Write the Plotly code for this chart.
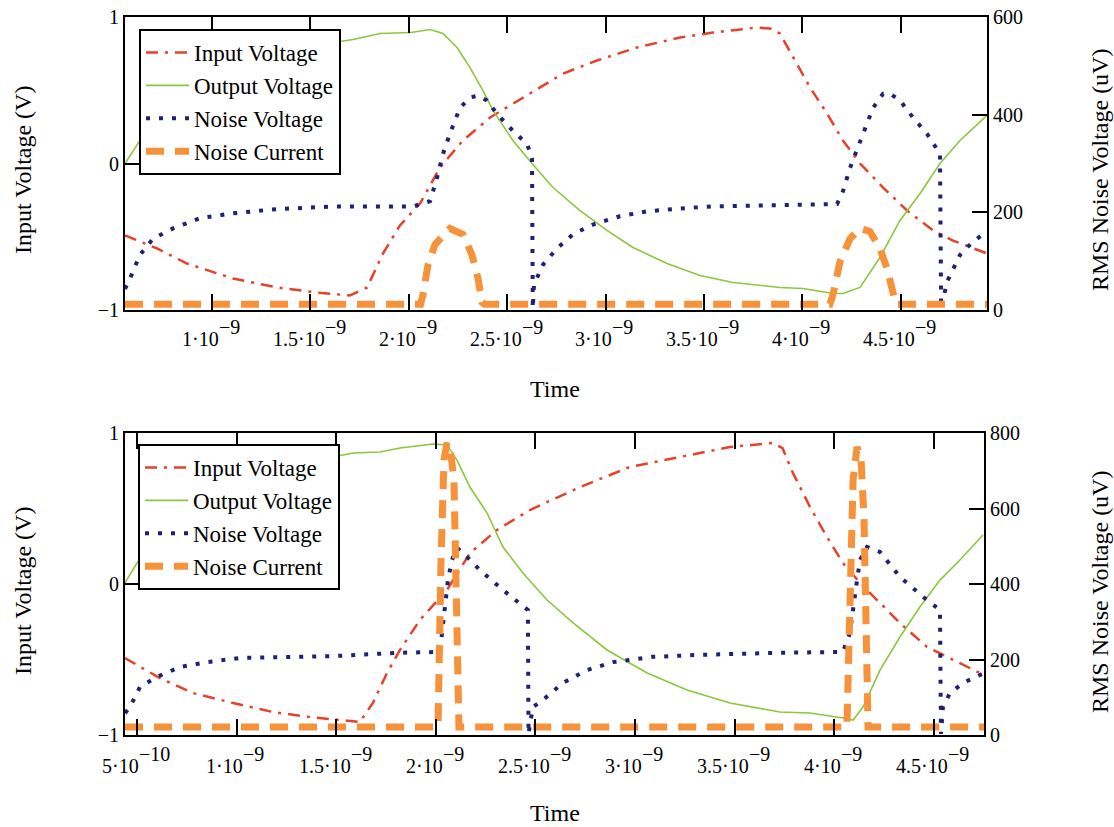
import plotly.graph_objects as go

NS = 1e-9

# ---------------- upper panel (times in ns) ----------------
up_in_t = [0.558, 0.721, 0.873, 1.107, 1.330, 1.534, 1.701, 1.788, 1.869, 1.955, 2.057, 2.159,
           2.275, 2.413, 2.616, 2.784, 2.956, 3.160, 3.378, 3.546, 3.769, 3.835, 3.886, 3.952,
           4.039, 4.125, 4.206, 4.293, 4.410, 4.532, 4.664, 4.765, 4.902, 4.938]
up_in_v = [-0.491, -0.580, -0.683, -0.785, -0.846, -0.881, -0.901, -0.846, -0.614, -0.423, -0.273, -0.027,
           0.157, 0.314, 0.478, 0.614, 0.703, 0.792, 0.860, 0.894, 0.928, 0.922, 0.887, 0.724,
           0.519, 0.341, 0.157, 0.0, -0.164, -0.321, -0.457, -0.526, -0.594, -0.614]

up_out_t = [0.558, 0.624, 0.75, 1.0, 1.3, 1.5, 1.716, 1.854, 2.011, 2.108, 2.174, 2.245, 2.311,
            2.377, 2.428, 2.529, 2.626, 2.733, 2.870, 3.007, 3.139, 3.312, 3.480, 3.647, 3.886,
            4.003, 4.155, 4.206, 4.293, 4.394, 4.496, 4.598, 4.699, 4.801, 4.938]
up_out_v = [0.0, 0.137, 0.36, 0.60, 0.75, 0.80, 0.846, 0.887, 0.894, 0.915, 0.887, 0.792, 0.655,
            0.498, 0.362, 0.157, 0.0, -0.164, -0.321, -0.457, -0.573, -0.683, -0.765, -0.812, -0.846,
            -0.853, -0.887, -0.887, -0.846, -0.642, -0.389, -0.205, 0.0, 0.157, 0.328]

up_nv_t = [0.558, 0.583, 0.634, 0.700, 0.802, 0.939, 1.107, 1.310, 1.615, 2.021, 2.108, 2.143,
           2.174, 2.209, 2.260, 2.311, 2.352, 2.397, 2.448, 2.529, 2.601, 2.626, 2.630, 2.636,
           2.682, 2.753, 2.834, 2.936, 3.073, 3.210, 3.378, 3.546, 4.176, 4.206, 4.242, 4.293,
           4.359, 4.410, 4.445, 4.496, 4.562, 4.633, 4.699, 4.705, 4.735, 4.801, 4.867, 4.938]
up_nv_u = [43, 64, 113, 146, 167, 188, 198, 206, 212, 212, 223, 270,
           320, 361, 414, 435, 439, 429, 402, 367, 340, 311, 3, 52,
           93, 126, 155, 175, 192, 202, 208, 212, 217, 243, 291, 346,
           414, 443, 443, 429, 394, 361, 320, 3, 58, 113, 140, 161]

up_nc_t = [0.558, 2.060, 2.072, 2.098, 2.133, 2.209, 2.275, 2.321, 2.352, 2.372, 2.385,
           4.140, 4.155, 4.191, 4.242, 4.293, 4.343, 4.394, 4.430, 4.460, 4.475, 4.938]
up_nc_u = [12, 12, 31, 93, 134, 167, 155, 113, 64, 16, 12,
           12, 31, 99, 146, 167, 161, 126, 85, 37, 12, 12]

# ---------------- lower panel (times in ns) ----------------
lo_in_t = [0.440, 0.615, 0.781, 0.982, 1.183, 1.368, 1.619, 1.684, 1.755, 1.820, 1.920, 2.056,
           2.171, 2.307, 2.472, 2.723, 2.974, 3.225, 3.476, 3.692, 3.740, 3.792, 3.878, 3.963,
           4.043, 4.129, 4.214, 4.329, 4.465, 4.565, 4.666, 4.751]
lo_in_v = [-0.490, -0.623, -0.722, -0.788, -0.848, -0.881, -0.914, -0.788, -0.589, -0.437, -0.238, -0.040,
           0.205, 0.358, 0.490, 0.642, 0.775, 0.841, 0.907, 0.934, 0.900, 0.735, 0.510, 0.311,
           0.139, 0.007, -0.106, -0.258, -0.417, -0.483, -0.550, -0.603]

lo_out_t = [0.440, 0.500, 0.65, 0.9, 1.2, 1.4, 1.584, 1.720, 1.820, 1.986, 2.056, 2.106, 2.171,
            2.257, 2.337, 2.437, 2.558, 2.689, 2.859, 3.060, 3.261, 3.476, 3.727, 3.878, 4.043,
            4.094, 4.144, 4.229, 4.329, 4.429, 4.530, 4.630, 4.746]
lo_out_v = [0.007, 0.139, 0.40, 0.62, 0.76, 0.82, 0.868, 0.874, 0.901, 0.927, 0.921, 0.821, 0.642,
            0.470, 0.245, 0.073, -0.106, -0.258, -0.437, -0.589, -0.702, -0.788, -0.848, -0.854, -0.887,
            -0.901, -0.815, -0.570, -0.351, -0.152, 0.026, 0.159, 0.325]

lo_nv_t = [0.440, 0.465, 0.515, 0.600, 0.716, 0.851, 1.017, 1.233, 1.484, 1.820, 2.021, 2.031,
           2.046, 2.061, 2.081, 2.106, 2.156, 2.221, 2.337, 2.422, 2.462, 2.465, 2.487, 2.538,
           2.638, 2.758, 2.889, 3.090, 3.310, 3.727, 4.043, 4.078, 4.094, 4.114, 4.129, 4.164,
           4.229, 4.329, 4.445, 4.530, 4.535, 4.545, 4.580, 4.646, 4.731, 4.751]
lo_nv_u = [58, 74, 127, 154, 180, 193, 204, 207, 209, 218, 220, 270,
           339, 411, 464, 496, 472, 437, 384, 350, 331, 3, 74, 93,
           138, 172, 193, 207, 212, 218, 220, 270, 339, 411, 464, 498,
           485, 419, 366, 331, 3, 74, 111, 138, 159, 163]

lo_nc_t = [0.440, 2.011, 2.026, 2.041, 2.056, 2.076, 2.091, 2.101, 2.111, 2.116,
           4.063, 4.078, 4.094, 4.114, 4.134, 4.149, 4.159, 4.169, 4.751]
lo_nc_u = [21, 21, 464, 729, 774, 742, 676, 464, 146, 21,
           21, 358, 676, 763, 729, 570, 252, 21, 21]

# tick positions (ns) and labels: mantissa and power of ten
up_ticks_ns = [1.0, 1.5, 2.0, 2.5, 3.0, 3.5, 4.0, 4.5]
up_tick_mant = ["1", "1.5", "2", "2.5", "3", "3.5", "4", "4.5"]
up_tick_exp = ["−9"] * 8
lo_ticks_ns = [0.5] + up_ticks_ns
lo_tick_mant = ["5"] + up_tick_mant
lo_tick_exp = ["−10"] + up_tick_exp

series_names = ["Input Voltage", "Output Voltage", "Noise Voltage", "Noise Current"]

FONT = "Liberation Serif"
RED, GREEN, NAVY, ORANGE = "#e5412b", "#8cc63f", "#1f2172", "#f7923a"
styles = [
    dict(color=RED, width=2.5, dash="12px,7px,3px,7px"),
    dict(color=GREEN, width=1.6),
    dict(color=NAVY, width=4, dash="4px,9px"),
    dict(color=ORANGE, width=7, dash="18px,11px"),
]

fig = go.Figure()

panels = [
    dict(xa="x", ya="y", ya2="y2", legend="legend",
         data=[(up_in_t, up_in_v), (up_out_t, up_out_v), (up_nv_t, up_nv_u), (up_nc_t, up_nc_u)]),
    dict(xa="x2", ya="y3", ya2="y4", legend="legend2",
         data=[(lo_in_t, lo_in_v), (lo_out_t, lo_out_v), (lo_nv_t, lo_nv_u), (lo_nc_t, lo_nc_u)]),
]

for p in panels:
    for i, ((t, v), name, st) in enumerate(zip(p["data"], series_names, styles)):
        fig.add_trace(go.Scatter(
            x=[ti * NS for ti in t], y=v, mode="lines", name=name,
            line=st, xaxis=p["xa"], yaxis=p["ya"] if i < 2 else p["ya2"],
            legend=p["legend"], hoverinfo="skip",
        ))

W, H = 1114, 827
TICK_SIZE = 20
tickfont = dict(family=FONT, size=TICK_SIZE, color="black")
frame = dict(showline=True, linewidth=2, linecolor="black", showgrid=False, zeroline=False,
             ticks="inside", tickwidth=2, tickcolor="black", tickfont=tickfont, automargin=False)


def px_x(a, b):
    return [a / W, b / W]


def px_y(top, bottom):
    return [1 - bottom / H, 1 - top / H]


legend_style = dict(xanchor="left", yanchor="top", bgcolor="white", bordercolor="black",
                    borderwidth=2, font=dict(family=FONT, size=23, color="black"),
                    traceorder="normal", itemwidth=43)

fig.update_layout(
    width=W, height=H, margin=dict(l=0, r=0, t=0, b=0, autoexpand=False),
    paper_bgcolor="white", plot_bgcolor="white",
    font=dict(family=FONT, color="black"),
    xaxis=dict(frame, domain=px_x(125, 987), anchor="y", range=[0.558 * NS, 4.938 * NS],
               tickvals=[t * NS for t in up_ticks_ns], showticklabels=False,
               ticklen=16, mirror="ticks"),
    yaxis=dict(frame, domain=px_y(17, 310), anchor="x", range=[-1, 1],
               tickvals=[-1, 0, 1], ticktext=["−1", "0", "1"], ticklen=15),
    yaxis2=dict(frame, overlaying="y", side="right", anchor="x", range=[0, 600],
                tickvals=[0, 200, 400, 600], ticklen=15),
    xaxis2=dict(frame, domain=px_x(125, 984), anchor="y3", range=[0.44 * NS, 4.751 * NS],
                tickvals=[t * NS for t in lo_ticks_ns], showticklabels=False,
                ticklen=16, mirror="ticks"),
    yaxis3=dict(frame, domain=px_y(433, 735), anchor="x2", range=[-1, 1],
                tickvals=[-1, 0, 1], ticktext=["−1", "0", "1"], ticklen=15),
    yaxis4=dict(frame, overlaying="y3", side="right", anchor="x2", range=[0, 800],
                tickvals=[0, 200, 400, 600, 800], ticklen=15),
    legend=dict(legend_style, x=139 / W, y=1 - 29 / H),
    legend2=dict(legend_style, x=138 / W, y=1 - 444 / H),
)

# Scientific tick labels "m·10^e" with a full-size raised exponent,
# built from two pieces that share a split point so the pair is centred on the tick.
EM = {"0": 0.5, "1": 0.5, "2": 0.5, "3": 0.5, "4": 0.5, "5": 0.5, "6": 0.5, "7": 0.5,
      "8": 0.5, "9": 0.5, ".": 0.25, "·": 0.25, "−": 0.564}


def text_w(s):
    return sum(EM.get(c, 0.5) for c in s) * TICK_SIZE


def add_sci_labels(xref, ticks_ns, mants, exps, mant_y, exp_y):
    for t, m, e in zip(ticks_ns, mants, exps):
        mant = f"{m}·10"
        shift = (text_w(mant) - text_w(e)) / 2
        common = dict(xref=xref, yref="paper", x=t * NS, showarrow=False,
                      font=tickfont, yanchor="middle", xshift=shift,
                      borderpad=0, borderwidth=0)
        fig.add_annotation(text=mant, y=1 - mant_y / H, xanchor="right", **common)
        fig.add_annotation(text=e, y=1 - exp_y / H, xanchor="left", **common)


add_sci_labels("x", up_ticks_ns, up_tick_mant, up_tick_exp, 339, 327)
add_sci_labels("x2", lo_ticks_ns, lo_tick_mant, lo_tick_exp, 766, 754)

title_font = dict(family=FONT, size=24, color="black")
annots = [
    dict(text="Time", x=555 / W, y=1 - 389 / H),
    dict(text="Time", x=555 / W, y=1 - 813 / H),
    dict(text="Input Voltage (V)", x=23 / W, y=1 - 170 / H, textangle=-90),
    dict(text="Input Voltage (V)", x=23 / W, y=1 - 591 / H, textangle=-90),
    dict(text="RMS Noise Voltage (uV)", x=1100 / W, y=1 - 170 / H, textangle=-90),
    dict(text="RMS Noise Voltage (uV)", x=1100 / W, y=1 - 592 / H, textangle=-90),
]
for a in annots:
    fig.add_annotation(xref="paper", yref="paper", showarrow=False, font=title_font,
                       xanchor="center", yanchor="middle", **a)

fig.write_html("out.html")
